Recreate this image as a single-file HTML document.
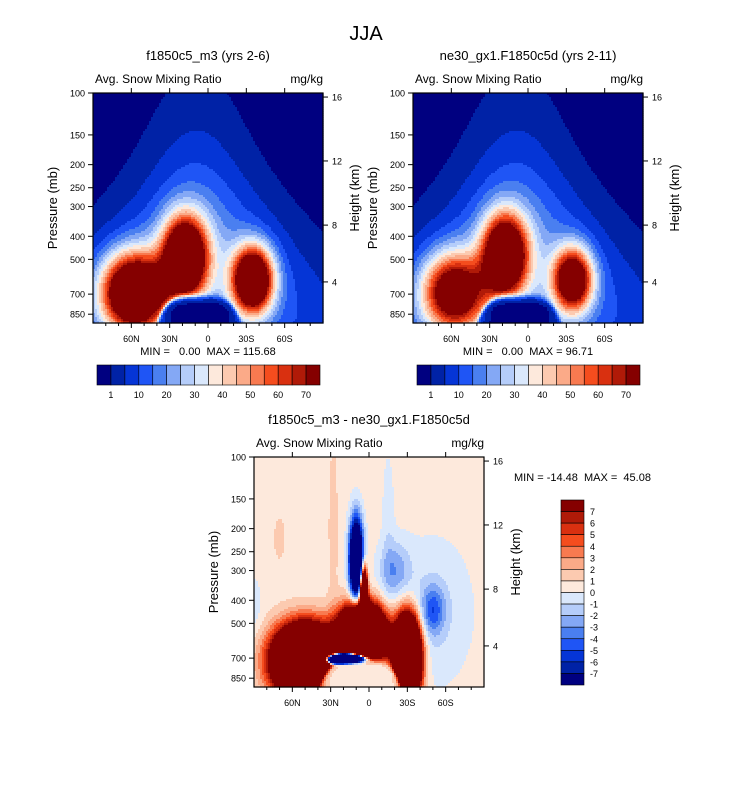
<!DOCTYPE html>
<html><head><meta charset="utf-8"><style>
body{margin:0;background:#fff;}
svg text{font-family:"Liberation Sans",Arial,sans-serif;fill:#000;}
</style></head><body>
<svg id="fig" width="733" height="784" viewBox="0 0 733 784" xmlns="http://www.w3.org/2000/svg">
<text x="366" y="40" font-size="20" text-anchor="middle">JJA</text>
<g id="layer"></g>
</svg>
<script>
// ---- data ----
const colors=["#000080","#0022a6","#0535d6","#1f55f5","#4a7ff0","#84a8f5","#b5cdfa","#dae8fc","#fde9dc","#fccab0","#fbaa88","#f87a50","#f54d1e","#d93010","#b01a08","#850000"];
const levelsAbs=[1,5,10,15,20,25,30,35,40,45,50,55,60,65,70];
const levelsDiff=[-7,-6,-5,-4,-3,-2,-1,0,1,2,3,4,5,6,7];
const absBarLabels=["1","","10","","20","","30","","40","","50","","60","","70"];
const diffBarLabels=["7","6","5","4","3","2","1","0","-1","-2","-3","-4","-5","-6","-7"];
const pTicks=[100,150,200,250,300,400,500,700,850];
const latTicks=[60,30,0,-30,-60];
const latTickLabels=["60N","30N","0","30S","60S"];
const hTicks=[16,12,8,4];
const hTickP=[104,193,359,622];
// blobs: lat, pressure, amplitude, lat width, log-p width
const p1Lat=[58,18,-35], p1P=[690,490,610], p1Amp=[110,110,110], p1LatW=[24,16.5,15], p1ZW=[0.155,0.16,0.13];
const p2Lat=[58,18,-35], p2P=[690,480,610], p2Amp=[82,105,92], p2LatW=[24,16.5,14.5], p2ZW=[0.155,0.16,0.125];
const dLat=[50,5,-30,10,18,-50,-50,-20,-15,28,90,4,70];
const dP=[720,560,700,270,710,440,450,300,180,200,420,380,220];
const dAmp=[40,40,45,-20,-100,-4,-1.6,-3,-1,1,-1.2,30,1];
const dLatW=[22,16,9,5,12,9,30,12,5,4,6,2.5,5];
const dZW=[0.13,0.11,0.15,0.16,0.02,0.1,0.3,0.12,0.3,0.4,0.12,0.1,0.1];

const NS="http://www.w3.org/2000/svg";
const layer=document.getElementById('layer');
function mk(tag,attrs,parent){const e=document.createElementNS(NS,tag);for(const k in attrs)e.setAttribute(k,attrs[k]);(parent||layer).appendChild(e);return e;}
const ZMAX=2+230/238;
function blobs(lat,z,L,P,A,W,ZW){let v=0;for(let i=0;i<L.length;i++){const a=(lat-L[i])/W[i],b=(z-Math.log10(P[i]))/ZW[i];v+=A[i]*Math.exp(-(a*a+b*b));}return v;}
function lowMask(lat,z){const d=lat-7;const zb=2.855+9e-8*d*d*d*d;const s=1/(1+Math.exp(-(z-zb)/0.008));const inLat=Math.exp(-Math.pow(d/35,8));return 1-s*inLat;}
function dome(lat,z){const t=Math.max(0,Math.min(1.3,(z-2)/0.72));const A=24*Math.exp(-Math.pow((z-2.72)/0.45,2));const W=30+40*t*t;const a=(lat-9)/W;return A*Math.exp(-a*a);}
function fieldAbs(k){const L=k?p2Lat:p1Lat,P=k?p2P:p1P,A=k?p2Amp:p1Amp,W=k?p2LatW:p1LatW,Z=k?p2ZW:p1ZW;
 return (lat,z)=>(dome(lat,z)+blobs(lat,z,L,P,A,W,Z))*lowMask(lat,z);}
function fieldDiff(lat,z){let v=blobs(lat,z,dLat,dP,dAmp,dLatW,dZW);v*=lowMask(lat,z);return 0.5+v;}
function idx(v,lev){let i=0;while(i<lev.length&&v>lev[i])i++;return i;}

function panel(name,x0,y0,f,lev,title,mm,mmPos){
 const w=230,h=230,g=mk('g',{}) ;
 
 
 const X=lat=>x0+(90-lat)/180*w, Y=p=>y0+(Math.log10(p)-2)/(ZMAX-2)*h;
 const cs=2;
 for(let r=0;r<h/cs;r++){
  const z=2+(r+0.5)*cs/h*(ZMAX-2);
  let start=0,cur=-1;
  for(let c=0;c<=w/cs;c++){
   let ci=-2;
   if(c<w/cs){const lat=90-(c+0.5)*cs/w*180;ci=idx(f(lat,z),lev);}
   if(ci!==cur){
    if(cur>=0){const rc=mk('rect',{x:x0+start*cs,y:y0+r*cs,width:(c-start)*cs+0.6,height:cs+0.6,fill:colors[cur]},g);
      
      }
    cur=ci;start=c;}
  }
 }
 const fr=mk('rect',{x:x0,y:y0,width:w,height:h,fill:'none',stroke:'#000','stroke-width':1.2},g);
 
 
 pTicks.forEach(p=>{const y=Y(p);mk('line',{x1:x0-5,x2:x0,y1:y,y2:y,stroke:'#000'},g);
  const t=mk('text',{x:x0-8,y:y+3.5,'font-size':9,'text-anchor':'end'},g);t.textContent=p;
  
  });
 for(let lat=80;lat>=-80;lat-=10){const x=X(lat);const mj=lat%30===0;mk('line',{x1:x,x2:x,y1:y0+h,y2:y0+h+(mj?5:3),stroke:'#000'},g);if(mj)mk('line',{x1:x,x2:x,y1:y0,y2:y0-5,stroke:'#000'},g);}
 latTicks.forEach((lat,i)=>{const t=mk('text',{x:X(lat),y:y0+h+19,'font-size':9,'text-anchor':'middle'},g);t.textContent=latTickLabels[i];
  
  });
 hTicks.forEach((hk,i)=>{const y=Y(hTickP[i]);mk('line',{x1:x0+w,x2:x0+w+5,y1:y,y2:y,stroke:'#000'},g);
  const t=mk('text',{x:x0+w+9,y:y+3.5,'font-size':9},g);t.textContent=hk;
  
  });
 let t=mk('text',{x:x0-36,y:y0+h/2,'font-size':13,'text-anchor':'middle',transform:`rotate(-90 ${x0-36} ${y0+h/2})`},g);t.textContent='Pressure (mb)';
 
 
 t=mk('text',{x:x0+w+36,y:y0+h/2-10,'font-size':13,'text-anchor':'middle',transform:`rotate(-90 ${x0+w+36} ${y0+h/2-10})`},g);t.textContent='Height (km)';
 
 
 t=mk('text',{x:x0+w/2,y:y0-33,'font-size':13,'text-anchor':'middle'},g);t.textContent=title;
 
 
 t=mk('text',{x:x0+2,y:y0-10,'font-size':12},g);t.textContent='Avg. Snow Mixing Ratio';
 
 
 t=mk('text',{x:x0+w,y:y0-10,'font-size':12,'text-anchor':'end'},g);t.textContent='mg/kg';
 
 
 t=mk('text',{x:mmPos[0],y:mmPos[1],'font-size':11,'text-anchor':mmPos[2]},g);t.textContent=mm;t.setAttribute('style','white-space:pre');
 
 
}
function hbar(name,x0,y0){const g=mk('g',{});
 
 
 const bw=223/16;
 colors.forEach((c,i)=>{const r=mk('rect',{x:x0+i*bw,y:y0,width:bw,height:20,fill:c,stroke:'#000','stroke-width':0.6},g);
  
  });
 absBarLabels.forEach((l,i)=>{if(!l)return;const t=mk('text',{x:x0+(i+1)*bw,y:y0+33,'font-size':9,'text-anchor':'middle'},g);t.textContent=l;
  
  });
}
function vbar(name,x0,y0){const g=mk('g',{});
 
 
 const bh=185/16;
 colors.slice().reverse().forEach((c,i)=>{const r=mk('rect',{x:x0,y:y0+i*bh,width:23,height:bh,fill:c,stroke:'#000','stroke-width':0.6},g);
  
  });
 diffBarLabels.forEach((l,i)=>{const t=mk('text',{x:x0+29,y:y0+(i+1)*bh+3.5,'font-size':9},g);t.textContent=l;
  
  });
}
panel('panel-f1850c5-m3',93,93,fieldAbs(0),levelsAbs,'f1850c5_m3 (yrs 2-6)','MIN =   0.00  MAX = 115.68',[208,355,'middle']);
panel('panel-ne30',413,93,fieldAbs(1),levelsAbs,'ne30_gx1.F1850c5d (yrs 2-11)','MIN =   0.00  MAX = 96.71',[528,355,'middle']);
panel('panel-difference',254,457,fieldDiff,levelsDiff,'f1850c5_m3 - ne30_gx1.F1850c5d','MIN = -14.48  MAX =  45.08',[514,481,'start']);
hbar('colorbar-left',97,365);
hbar('colorbar-right',417,365);
vbar('colorbar-difference',561,500);
</script>
</body></html>
